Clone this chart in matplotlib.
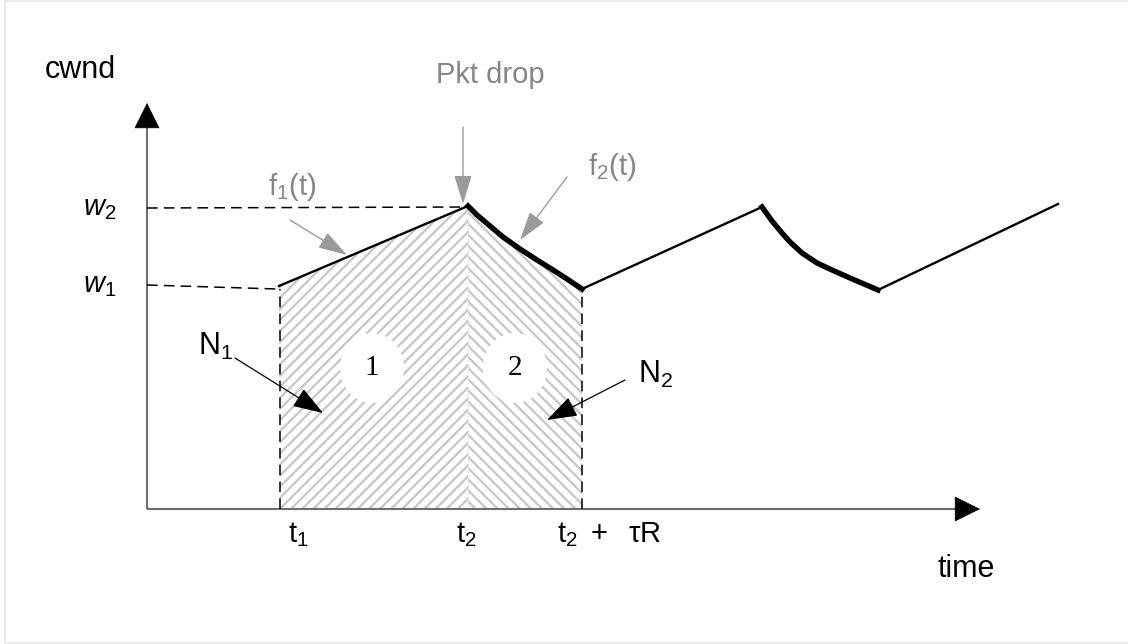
import matplotlib
matplotlib.use("Agg")
import matplotlib.pyplot as plt
from matplotlib.patches import Polygon, Ellipse, Rectangle

plt.rcParams['font.family'] = ['Liberation Sans', 'DejaVu Sans']
plt.rcParams['mathtext.fontset'] = 'custom'
plt.rcParams['mathtext.rm'] = 'Liberation Sans'
plt.rcParams['mathtext.it'] = 'Liberation Sans:italic'
plt.rcParams['mathtext.sf'] = 'Liberation Sans'
plt.rcParams['hatch.linewidth'] = 1.6

# cwnd trace (time, cwnd)
rise1_t = [1.32, 3.21]
rise1_w = [2.23, 3.03]
drop1_t = [3.21, 3.30, 3.43, 3.56, 3.73, 3.90, 4.06, 4.20, 4.35]
drop1_w = [3.03, 2.94, 2.83, 2.72, 2.60, 2.49, 2.39, 2.30, 2.20]
rise2_t = [4.35, 6.15]
rise2_w = [2.20, 3.02]
drop2_t = [6.15, 6.25, 6.35, 6.43, 6.55, 6.70, 6.85, 7.03, 7.17, 7.31]
drop2_w = [3.02, 2.88, 2.76, 2.67, 2.56, 2.46, 2.39, 2.31, 2.25, 2.19]
rise3_t = [7.31, 9.11]
rise3_w = [2.19, 3.05]

t1 = 1.33
t2 = 3.21
t2_tau = 4.35
w1 = 2.22
w2 = 3.01

x_end = 8.33   # tip of time axis
y_end = 4.06   # tip of cwnd axis

GRAY_TXT = '#858585'
GRAY_ARR = '#9a9a9a'

fig = plt.figure(figsize=(11.28, 6.44), dpi=100)
ax = fig.add_axes([0, 0, 1, 1])
ax.set_xlim(-1.47, 9.81)
ax.set_ylim(-1.35, 5.09)
ax.axis('off')

# light frame round the picture
fig.add_artist(Rectangle((5 / 1128, 1 / 644), 1.2, 642 / 644, transform=fig.transFigure,
                         fill=False, ec='#e6e6e6', lw=1.2))

# hatched areas N1 and N2
left_poly = [(t1, 0), (rise1_t[0], rise1_w[0]), (rise1_t[1], rise1_w[1]), (t2, 0)]
right_poly = [(t2, 0)] + list(zip(drop1_t, drop1_w)) + [(t2_tau, 0)]
ax.add_patch(Polygon(left_poly, closed=True, fc='none', ec='#c6c6c6', hatch='///', lw=0, zorder=1))
ax.add_patch(Polygon(right_poly, closed=True, fc='none', ec='#c6c6c6', hatch='\\\\\\', lw=0, zorder=1))

# white blobs with region numbers
for cx, lab in [(2.25, '1'), (3.68, '2')]:
    ax.add_patch(Ellipse((cx, 1.41), 0.64, 0.70, fc='white', ec='none', zorder=2))
    ax.text(cx, 1.41, lab, fontsize=21, family='Liberation Serif', ha='center', va='center', zorder=3)

# axes with arrow heads
ax.plot([0, 0], [0, y_end - 0.2], color='#6e6e6e', lw=1.5, zorder=3, solid_capstyle='butt')
ax.plot([0, x_end - 0.2], [0, 0], color='#6e6e6e', lw=1.5, zorder=3, solid_capstyle='butt')
head = dict(arrowstyle='-|>,head_length=1.73,head_width=0.86', mutation_scale=10,
            fc='black', ec='black', lw=0.5, shrinkA=0, shrinkB=0)
ax.annotate('', xy=(0, y_end), xytext=(0, y_end - 0.25), arrowprops=head, zorder=4)
ax.annotate('', xy=(x_end, 0), xytext=(x_end - 0.25, 0), arrowprops=head, zorder=4)

# dashed guides
dash = dict(color='black', lw=1.1, dashes=(7, 4), zorder=3)
ax.plot([0, t2], [w2, w2 + 0.01], **dash)
ax.plot([0, t1 - 0.03], [w1 + 0.02, rise1_w[0] - 0.03], **dash)
ax.plot([t1, t1], [0, rise1_w[0] - 0.03], **dash)
ax.plot([t2_tau, t2_tau], [0, drop1_w[-1]], **dash)
ax.plot([t2, t2], [0, rise1_w[1] - 0.05], color='#dcdcdc', lw=1, ls=':', zorder=2)

# cwnd trace
ax.plot(rise1_t, rise1_w, color='black', lw=1.7, zorder=5)
ax.plot(drop1_t, drop1_w, color='black', lw=3.9, zorder=5, solid_joinstyle='round')
ax.plot(rise2_t, rise2_w, color='black', lw=1.7, zorder=5)
ax.plot(drop2_t, drop2_w, color='black', lw=3.9, zorder=5, solid_joinstyle='round')
ax.plot(rise3_t, rise3_w, color='black', lw=1.7, zorder=5)

# pointer arrows
gray_arrow = dict(arrowstyle='-|>,head_length=1.8,head_width=0.55', mutation_scale=10,
                  fc=GRAY_ARR, ec=GRAY_ARR, lw=1, shrinkA=0, shrinkB=0)
black_arrow = dict(arrowstyle='-|>,head_length=1.9,head_width=0.65', mutation_scale=10,
                   fc='black', ec='black', lw=0.9, shrinkA=0, shrinkB=0)
ax.annotate('', xy=(3.16, 3.05), xytext=(3.16, 3.82), arrowprops=gray_arrow, zorder=6)
ax.annotate('', xy=(2.00, 2.54), xytext=(1.43, 2.89), arrowprops=gray_arrow, zorder=6)
ax.annotate('', xy=(3.73, 2.69), xytext=(4.20, 3.32), arrowprops=gray_arrow, zorder=6)
ax.annotate('', xy=(1.76, 0.96), xytext=(0.88, 1.51), arrowprops=black_arrow, zorder=6)
ax.annotate('', xy=(4.00, 0.89), xytext=(4.78, 1.29), arrowprops=black_arrow, zorder=6)

# labels
ax.text(-1.02, 4.31, 'cwnd', fontsize=22, ha='left', va='baseline')
ax.text(7.91, -0.68, 'time', fontsize=22, ha='left', va='baseline')
ax.text(3.43, 4.26, 'Pkt drop', fontsize=21, color=GRAY_TXT, ha='center', va='baseline')
ax.text(1.21, 3.14, r'$\mathrm{f}_1\mathrm{(t)}$', fontsize=21, color=GRAY_TXT, ha='left', va='baseline')
ax.text(4.41, 3.34, r'$\mathrm{f}_2\mathrm{(t)}$', fontsize=21, color=GRAY_TXT, ha='left', va='baseline')
ax.text(0.51, 1.54, r'$\mathrm{N}_1$', fontsize=22, ha='left', va='baseline')
ax.text(4.91, 1.26, r'$\mathrm{N}_2$', fontsize=22, ha='left', va='baseline')
ax.text(-0.31, w2, r'$w_2$', fontsize=21, ha='right', va='center')
ax.text(-0.31, w1 + 0.02, r'$w_1$', fontsize=21, ha='right', va='center')
ax.text(1.41, -0.33, r'$\mathrm{t}_1$', fontsize=21, ha='left', va='baseline')
ax.text(3.09, -0.33, r'$\mathrm{t}_2$', fontsize=21, ha='left', va='baseline')
ax.text(4.10, -0.33, r'$\mathrm{t}_2\mathrm{\ +\ \ \tau R}$', fontsize=21, ha='left', va='baseline')

fig.savefig('out.png', dpi=100)
